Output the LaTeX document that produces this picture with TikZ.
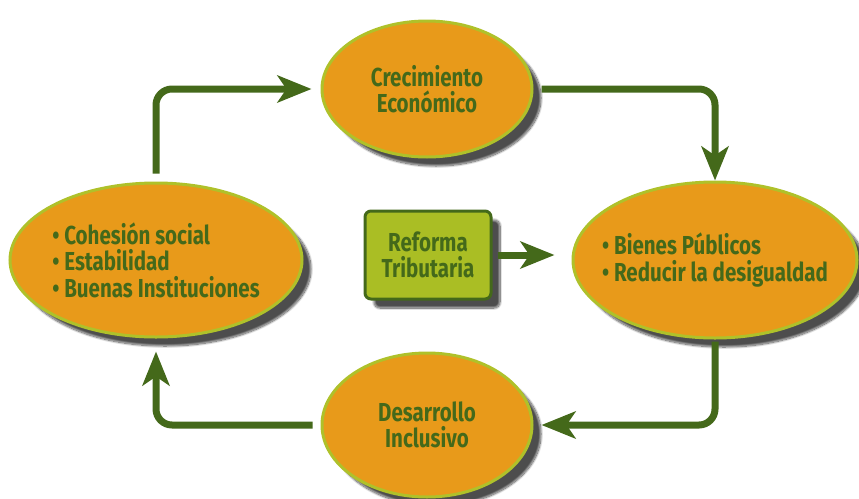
\documentclass[tikz,border=0pt]{standalone}
\usepackage{fontspec}
\setmainfont{Fira Sans}[FakeStretch=0.79]
\usetikzlibrary{shapes.geometric, arrows.meta, shadows.blur}

\definecolor{bubblefill}{HTML}{E89A1A}
\definecolor{bubbleline}{HTML}{AFC12A}
\definecolor{darkleaf}{HTML}{44691A}
\definecolor{boxfill}{HTML}{AABE24}

\begin{document}
\begin{tikzpicture}[x=1pt, y=-1pt,
  bubble/.style={ellipse, draw=bubbleline, line width=3pt, fill=bubblefill,
    inner xsep=-40pt, inner ysep=-10pt, text=darkleaf, font=\fontsize{26}{26.5}\selectfont\bfseries,
    blur shadow={shadow xshift=9pt, shadow yshift=-9pt, shadow blur steps=14, shadow opacity=70}},
  flow/.style={draw=darkleaf, line width=7pt, rounded corners=16pt,
    -{Stealth[length=34pt, width=27pt, inset=9pt]}}]

\useasboundingbox (0,0) rectangle (859,498);

% Draw the four stages.
\node[bubble, minimum width=210pt, minimum height=136pt, align=center] (crec) at (427,89)
  {Crecimiento\\Económico};
\node[bubble, minimum width=292pt, minimum height=154pt, align=left] (cohes) at (156,260)
  {\textbullet\ Cohesión social\\\textbullet\ Estabilidad\\\textbullet\ Buenas Instituciones};
\node[bubble, minimum width=284pt, minimum height=156pt, align=left] (bienes) at (715,260)
  {\textbullet\ Bienes Públicos\\\textbullet\ Reducir la desigualdad};
\node[bubble, minimum width=210pt, minimum height=144pt, align=center] (desar) at (427,425)
  {Desarrollo\\Inclusivo};

% Draw the reform box.
\node[draw=darkleaf, line width=3pt, fill=boxfill, rounded corners=6pt,
  minimum width=126pt, minimum height=88pt, align=center, text=darkleaf,
  font=\fontsize{26}{26.5}\selectfont\bfseries,
  blur shadow={shadow xshift=9pt, shadow yshift=-9pt, shadow blur steps=14, shadow opacity=70}]
  (reforma) at (428,255) {Reforma\\Tributaria};

% Draw the cycle.
\draw[flow, shorten <=8pt, shorten >=9pt] (cohes.north) |- (crec.west);
\draw[flow, shorten <=8pt] (crec.east) -| (bienes.north);
\draw[flow, shorten <=2pt, shorten >=8pt] (bienes.south) |- (desar.east);
\draw[flow, shorten <=8pt, shorten >=13pt] (desar.west) -| (cohes.south);
\draw[flow, shorten <=5pt, shorten >=17pt] (reforma.east) -- (reforma.east -| bienes.west);

\end{tikzpicture}
\end{document}
